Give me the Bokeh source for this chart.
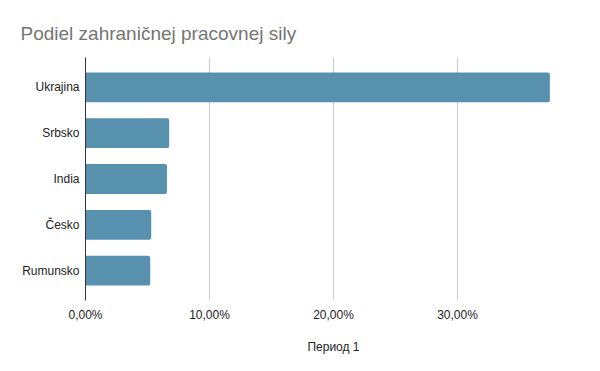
from bokeh.plotting import figure
from bokeh.models import FactorRange, Range1d, FixedTicker, ColumnDataSource
from bokeh.embed import file_html
from bokeh.resources import INLINE

# Data (percent)
categories = ["Ukrajina", "Srbsko", "India", "Česko", "Rumunsko"]
shares = [37.45, 6.75, 6.57, 5.30, 5.22]
x_ticks = [0, 10, 20, 30, 40]
x_tick_labels = ["0,00%", "10,00%", "20,00%", "30,00%", ""]
title_text = "Podiel zahraničnej pracovnej sily"
x_axis_label = "Период 1"

source = ColumnDataSource(dict(cat=categories, val=shares))

p = figure(
    width=600, height=371,
    y_range=FactorRange(factors=list(reversed(categories)), range_padding=0.06),
    x_range=Range1d(0, 40),
    output_backend="svg", toolbar_location=None,
    min_border_left=85, min_border_right=19, min_border_top=57, min_border_bottom=71,
)
p.outline_line_color = None
p.background_fill_color = "white"
p.border_fill_color = "white"

p.title.text = title_text
p.title.text_font = "Liberation Sans"
p.title.text_font_size = "19px"
p.title.text_font_style = "normal"
p.title.text_color = "#757575"
p.title.align = "left"
p.title.vertical_align = "top"
p.title.offset = -65
p.title.standoff = 23

p.hbar(y="cat", right="val", left=0, height=0.65, source=source,
       fill_color="#5891ad", line_color=None, border_radius=(0, 2, 2, 0))

# x axis
p.xaxis.ticker = FixedTicker(ticks=x_ticks)
p.xaxis.major_label_overrides = {t: l for t, l in zip(x_ticks, x_tick_labels)}
p.xaxis.axis_line_color = None
p.xaxis.major_tick_line_color = None
p.xaxis.minor_tick_line_color = None
p.xaxis.major_tick_out = 0
p.xaxis.major_tick_in = 0
p.xaxis.minor_tick_out = 0
p.xaxis.major_label_standoff = 7
p.xaxis.major_label_text_font = "Liberation Sans"
p.xaxis.major_label_text_font_size = "12px"
p.xaxis.major_label_text_color = "#222222"
p.xaxis.axis_label = x_axis_label
p.xaxis.axis_label_text_font = "Liberation Sans"
p.xaxis.axis_label_text_font_size = "12px"
p.xaxis.axis_label_text_font_style = "normal"
p.xaxis.axis_label_text_color = "#222222"
p.xaxis.axis_label_standoff = 15

# y axis
p.yaxis.axis_line_color = "#333333"
p.yaxis.axis_line_width = 1
p.yaxis.major_tick_line_color = None
p.yaxis.minor_tick_line_color = None
p.yaxis.major_tick_out = 0
p.yaxis.major_tick_in = 0
p.yaxis.minor_tick_out = 0
p.yaxis.major_label_standoff = 6
p.yaxis.major_label_text_font = "Liberation Sans"
p.yaxis.major_label_text_font_size = "12px"
p.yaxis.major_label_text_color = "#222222"

p.xgrid.grid_line_color = "#cccccc"
p.xgrid.grid_line_width = 1
p.ygrid.grid_line_color = None

open("out.html", "w").write(file_html(p, INLINE))
